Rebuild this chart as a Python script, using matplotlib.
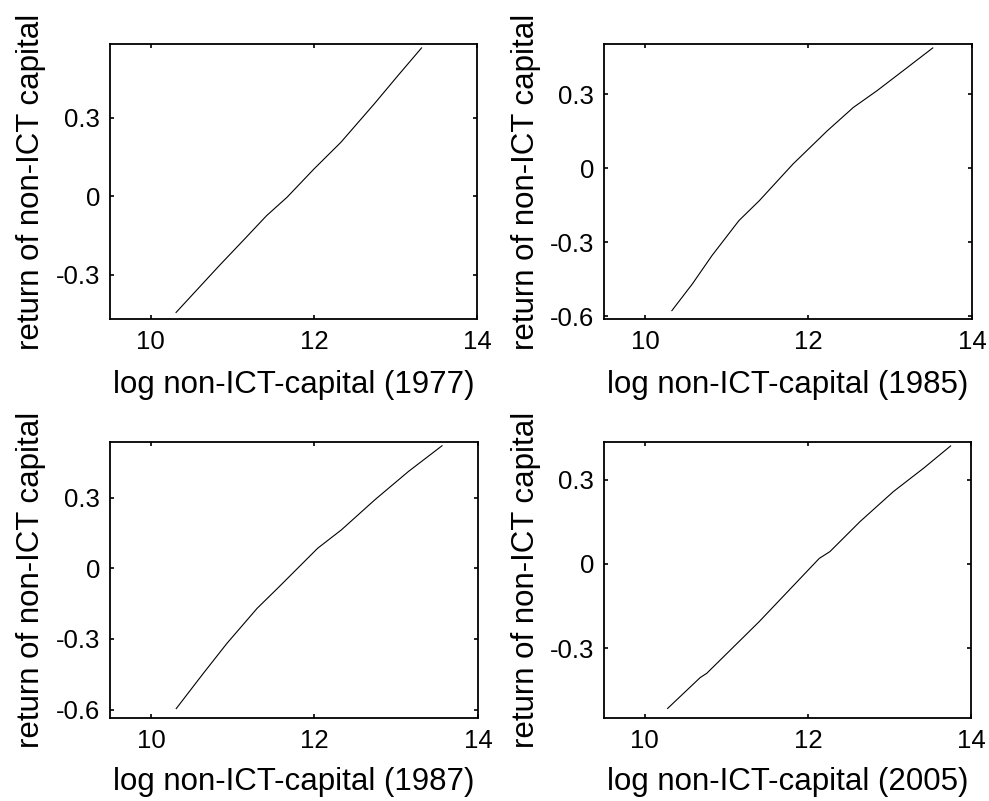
import matplotlib
matplotlib.use("Agg")
import matplotlib.pyplot as plt

plt.rcParams['font.family'] = ['Liberation Sans', 'DejaVu Sans']

# ---- data ----
x_1977 = [10.31, 10.84, 11.13, 11.42, 11.67, 12.00, 12.33, 12.74, 13.03, 13.32]
y_1977 = [-0.445, -0.266, -0.171, -0.075, -0.005, 0.103, 0.205, 0.352, 0.460, 0.566]

x_1985 = [10.33, 10.58, 10.82, 11.15, 11.40, 11.81, 12.23, 12.55, 12.84, 13.21, 13.52]
y_1985 = [-0.577, -0.469, -0.354, -0.212, -0.131, 0.017, 0.152, 0.247, 0.315, 0.409, 0.488]

x_1987 = [10.31, 10.64, 10.93, 11.30, 11.55, 12.04, 12.33, 12.74, 13.15, 13.56]
y_1987 = [-0.596, -0.447, -0.319, -0.170, -0.085, 0.085, 0.163, 0.291, 0.411, 0.520]

x_2005 = [10.28, 10.68, 10.76, 11.40, 12.14, 12.27, 12.64, 13.05, 13.42, 13.75]
y_2005 = [-0.514, -0.404, -0.389, -0.206, 0.020, 0.044, 0.151, 0.258, 0.341, 0.420]

years = ['1977', '1985', '1987', '2005']
ylims = [(-0.47, 0.581), (-0.611, 0.504), (-0.636, 0.536), (-0.548, 0.434)]
yticks = [[-0.3, 0, 0.3], [-0.6, -0.3, 0, 0.3], [-0.6, -0.3, 0, 0.3], [-0.3, 0, 0.3]]
ytick_labels = [['-0.3', '0', '0.3'], ['-0.6', '-0.3', '0', '0.3'],
                ['-0.6', '-0.3', '0', '0.3'], ['-0.3', '0', '0.3']]
xticks = [10, 12, 14]
xtick_labels = ['10', '12', '14']
xs = [x_1977, x_1985, x_1987, x_2005]
ys = [y_1977, y_1985, y_1987, y_2005]

W, H = 989, 801
fig = plt.figure(figsize=(W / 100, H / 100), dpi=100)

# axes boxes in pixels: left, top, right, bottom
boxes = [(110, 44, 477, 319), (604, 44, 972, 319),
         (110, 442, 478, 718), (604, 442, 971, 718)]
# pixel position of top of x-label and right edge of y-label
xlab_top = [370, 370, 767, 767]
ylab_right = [46, 541, 46, 541]

for i in range(4):
    l, t, r, b = boxes[i]
    ax = fig.add_axes([l / W, 1 - b / H, (r - l) / W, (b - t) / H])
    ax.plot(xs[i], ys[i], color='black', lw=0.8)
    ax.set_xlim(9.5, 14)
    ax.set_ylim(*ylims[i])
    ax.set_xticks(xticks)
    ax.set_xticklabels(xtick_labels)
    ax.set_yticks(yticks[i])
    ax.set_yticklabels(ytick_labels[i])
    ax.tick_params(direction='in', length=3, width=1.2, labelsize=18.5,
                   top=True, right=True)
    ax.tick_params(axis='x', pad=8)
    ax.tick_params(axis='y', pad=7)
    for s in ax.spines.values():
        s.set_linewidth(1.3)
    ax.set_xlabel('log non-ICT-capital (' + years[i] + ')', fontsize=22.5, va='top')
    ax.set_ylabel('return of non-ICT capital', fontsize=22.5)
    ax.xaxis.set_label_coords(0.5, -(xlab_top[i] - b) / (b - t))
    ax.yaxis.set_label_coords((ylab_right[i] - l) / (r - l), 0.5)

fig.savefig('out.png', dpi=100)
